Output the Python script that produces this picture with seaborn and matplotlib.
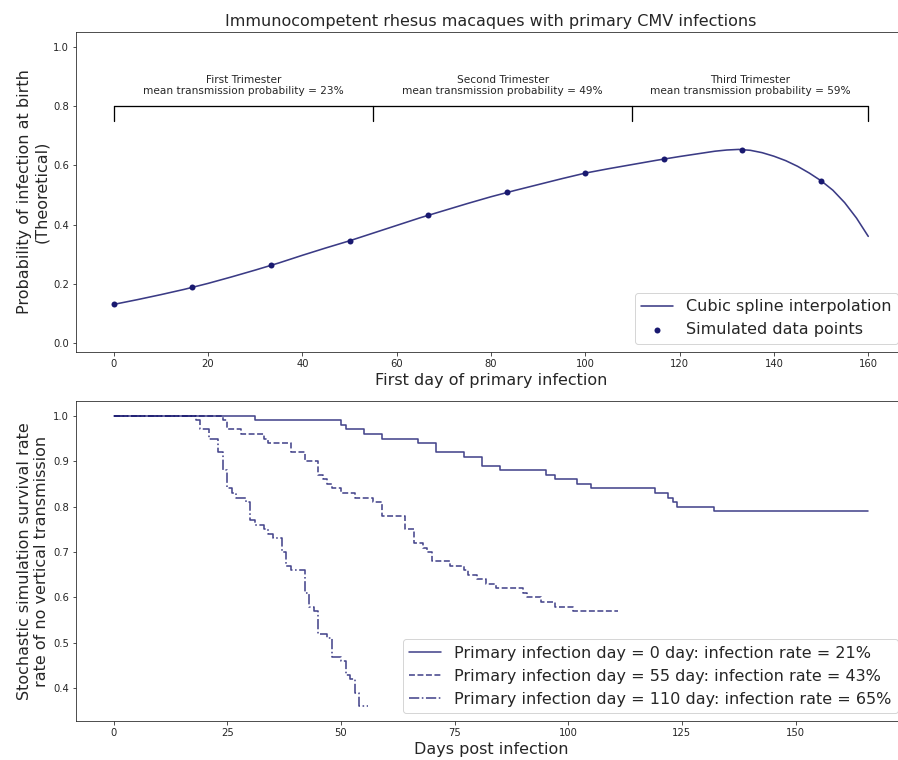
import matplotlib
matplotlib.use("Agg")
import matplotlib.pyplot as plt
import seaborn as sns

# --- top panel: theoretical probability of infection at birth ---
sim_days = [0, 16.67, 33.33, 50, 66.67, 83.33, 100, 116.67, 133.33, 150]
sim_prob = [0.130, 0.188, 0.262, 0.345, 0.431, 0.509, 0.574, 0.621, 0.653, 0.548]

spline_days = [0, 5, 10, 15, 20, 25, 30, 35, 40, 45, 50, 55, 60, 65, 70, 75, 80,
               85, 90, 95, 100, 105, 110, 115, 120, 125, 127.5, 130, 132.5, 135,
               137.5, 140, 142.5, 145, 147.5, 150, 152.5, 155, 157.5, 160]
spline_prob = [0.130, 0.146, 0.163, 0.181, 0.201, 0.223, 0.246, 0.270, 0.296,
               0.321, 0.345, 0.371, 0.397, 0.423, 0.447, 0.471, 0.494, 0.515,
               0.535, 0.555, 0.574, 0.589, 0.603, 0.617, 0.630, 0.642, 0.648,
               0.652, 0.654, 0.651, 0.643, 0.631, 0.616, 0.597, 0.574, 0.548,
               0.516, 0.474, 0.422, 0.360]

trimester_bounds = [0, 55, 110, 160]
trimester_names = ["First Trimester", "Second Trimester", "Third Trimester"]
trimester_means = [23, 49, 59]

# --- bottom panel: stochastic survival curves (step functions) ---
day0_t = [0, 31, 50, 51, 55, 59, 67, 71, 77, 81, 85, 95, 97, 102, 105, 119,
          122, 123, 124, 132, 166]
day0_s = [1.00, 0.99, 0.98, 0.97, 0.96, 0.95, 0.94, 0.92, 0.91, 0.89, 0.88,
          0.87, 0.86, 0.85, 0.84, 0.83, 0.82, 0.81, 0.80, 0.79, 0.79]

day55_t = [0, 24, 25, 28, 33, 34, 39, 42, 45, 46, 47, 48, 50, 53, 57, 59, 64,
           66, 68, 69, 70, 74, 77, 78, 80, 82, 84, 90, 91, 94, 97, 101, 111]
day55_s = [1.00, 0.99, 0.97, 0.96, 0.95, 0.94, 0.92, 0.90, 0.87, 0.86, 0.85,
           0.84, 0.83, 0.82, 0.81, 0.78, 0.75, 0.72, 0.71, 0.70, 0.68, 0.67,
           0.66, 0.65, 0.64, 0.63, 0.62, 0.61, 0.60, 0.59, 0.58, 0.57, 0.57]

day110_t = [0, 18, 19, 21, 23, 24, 25, 26, 27, 29, 30, 31, 33, 34, 35, 37, 38,
            39, 42, 43, 44, 45, 47, 48, 50, 51, 52, 53, 54, 56]
day110_s = [1.00, 0.99, 0.97, 0.95, 0.92, 0.88, 0.84, 0.83, 0.82, 0.81, 0.77,
            0.76, 0.75, 0.74, 0.73, 0.70, 0.67, 0.66, 0.61, 0.58, 0.57, 0.52,
            0.51, 0.47, 0.46, 0.43, 0.42, 0.39, 0.36, 0.36]

survival = [
    (day0_t, day0_s, "-", "Primary infection day = 0 day: infection rate = 21%"),
    (day55_t, day55_s, "--", "Primary infection day = 55 day: infection rate = 43%"),
    (day110_t, day110_s, "-.", "Primary infection day = 110 day: infection rate = 65%"),
]

sns.set_style("ticks")
plt.rcParams["font.family"] = ["DejaVu Sans"]

col = "midnightblue"
fig = plt.figure(figsize=(898 / 72, 760 / 72), dpi=72)
ax1 = fig.add_axes([0.0846, 0.5372, 0.9243, 0.4203])
ax2 = fig.add_axes([0.0846, 0.0513, 0.9243, 0.4207])

# top
sns.lineplot(x=spline_days, y=spline_prob, ax=ax1, color=col, alpha=0.85,
             linewidth=1.6, label="Cubic spline interpolation")
sns.scatterplot(x=sim_days, y=sim_prob, ax=ax1, color=col, s=36, linewidth=0,
                label="Simulated data points")

# trimester brackets
ax1.plot([trimester_bounds[0], trimester_bounds[-1]], [0.8, 0.8], color="k", lw=1.3)
for b in trimester_bounds:
    ax1.plot([b, b], [0.75, 0.8], color="k", lw=1.3)
for i, name in enumerate(trimester_names):
    mid = (trimester_bounds[i] + trimester_bounds[i + 1]) / 2
    ax1.text(mid, 0.833, f"{name}\nmean transmission probability = {trimester_means[i]}%",
             ha="center", va="bottom", fontsize=10.5)

ax1.set_xlim(-8, 168)
ax1.set_ylim(-0.03, 1.05)
ax1.set_title("Immunocompetent rhesus macaques with primary CMV infections", fontsize=16)
ax1.set_xlabel("First day of primary infection", fontsize=16)
ax1.set_ylabel("Probability of infection at birth\n(Theoretical)", fontsize=16)
ax1.legend(loc="lower right", fontsize=16)

# bottom
for t, s, ls, lab in survival:
    sns.lineplot(x=t, y=s, ax=ax2, color=col, alpha=0.8, linewidth=1.6,
                 linestyle=ls, drawstyle="steps-post", label=lab)
ax2.set_xlabel("Days post infection", fontsize=16)
ax2.set_ylabel("Stochastic simulation survival rate\nrate of no vertical transmission",
               fontsize=16)
ax2.legend(loc="lower right", fontsize=16)

for ax in (ax1, ax2):
    ax.spines["right"].set_visible(False)
    ax.tick_params(labelsize=10)

fig.savefig("out.png", dpi=72)
